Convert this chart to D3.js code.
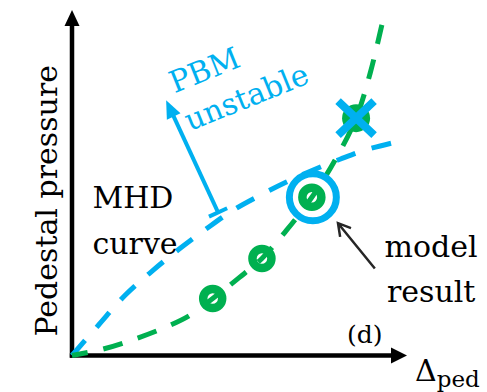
<!DOCTYPE html>
<html>
<head>
<meta charset="utf-8">
<script src="https://cdn.jsdelivr.net/npm/d3@7"></script>
<style>
  html, body { margin: 0; padding: 0; background: #fff; }
  svg { display: block; }
  text { font-family: "DejaVu Serif", serif; }
</style>
</head>
<body>
<script>
// MHD stability boundary (pedestal pressure vs pedestal width)
const mhdX = [0, 8, 16, 24, 32, 40, 48, 56, 64, 72, 80, 88, 99];
const mhdY = [0, 8.9, 17.6, 24.5, 30.8, 36.6, 42, 46.3, 50.2, 53.7, 56.8, 59.6, 62.3];

// Model trajectory of the pedestal as it builds up
const modelX = [0, 9, 18, 27, 35, 42, 50, 56.7, 64, 71.6, 78.5, 84.8, 89, 92.5];
const modelY = [0, 1.8, 4.5, 7.8, 11.5, 16.5, 22.6, 28.1, 36.2, 45.8, 56.5, 68.7, 81.7, 95.7];

// Points marked along the trajectory (the last one is the model result)
const ringX = [42, 56.7, 71.6];
const ringY = [16.5, 28.1, 45.8];
const resultIndex = 2;

// Point beyond the boundary (unstable)
const crossX = [84.8];
const crossY = [68.7];

// Annotation anchors, in data units
const pbmArrowFrom = [43.6, 41.4], pbmArrowTo = [28.1, 73.9];
const resultArrowFrom = [90.4, 25.2], resultArrowTo = [79.4, 38.3];

const labels = {
  yAxis: "Pedestal pressure",
  xAxis: "Δ", xSub: "ped",
  panel: "(d)",
  mhd: ["MHD", "curve"],
  pbm: ["PBM", "unstable"],
  result: ["model", "result"]
};

const W = 487, H = 392;
const BLUE = "#00B0F0", GREEN = "#00B050";

const x = d3.scaleLinear().domain([0, 100]).range([72, 407]);
const y = d3.scaleLinear().domain([0, 100]).range([355.5, 10]);

const svg = d3.select("body").append("svg")
  .attr("width", W).attr("height", H);

// ---- axes with arrowheads ----
const [x0, x1] = x.range();
const [y0, y1] = y.range();
const axes = svg.append("g");
axes.append("line")
  .attr("x1", x0 - 2.2).attr("y1", y0).attr("x2", x1 - 12).attr("y2", y0)
  .attr("stroke", "#000").attr("stroke-width", 4.5);
axes.append("line")
  .attr("x1", x0).attr("y1", y0 + 2.2).attr("x2", x0).attr("y2", y1 + 12)
  .attr("stroke", "#000").attr("stroke-width", 4.5);
axes.append("path")
  .attr("d", `M${x1},${y0} L${x1 - 16},${y0 - 8} L${x1 - 16},${y0 + 8} Z`)
  .attr("fill", "#000");
axes.append("path")
  .attr("d", `M${x0},${y1} L${x0 - 7.5},${y1 + 16} L${x0 + 7.5},${y1 + 16} Z`)
  .attr("fill", "#000");

// axis titles
svg.append("text")
  .attr("transform", `translate(${x0 - 15},${(y0 + y1) / 2 + 18}) rotate(-90)`)
  .attr("text-anchor", "middle")
  .attr("font-size", 30)
  .attr("fill", "#000")
  .text(labels.yAxis);

const xt = svg.append("text")
  .attr("x", x1 + 8).attr("y", y0 + 25)
  .attr("font-size", 30).attr("fill", "#000");
xt.append("tspan").text(labels.xAxis);
xt.append("tspan").attr("font-size", 23).attr("dy", 6).text(labels.xSub);

svg.append("text")
  .attr("x", x(82.1)).attr("y", y(3.5))
  .attr("font-size", 25).attr("fill", "#000")
  .text(labels.panel);

// ---- curves ----
const line = (xs, ys) => d3.line()
  .x(i => x(xs[i])).y(i => y(ys[i]))
  .curve(d3.curveCatmullRom.alpha(0.5))(d3.range(xs.length));

svg.append("path")
  .attr("d", line(mhdX, mhdY))
  .attr("fill", "none").attr("stroke", BLUE)
  .attr("stroke-width", 5).attr("stroke-dasharray", "20,17");

svg.append("path")
  .attr("d", line(modelX, modelY))
  .attr("fill", "none").attr("stroke", GREEN)
  .attr("stroke-width", 5).attr("stroke-dasharray", "20,16")
  .attr("stroke-dashoffset", 4);

// ---- markers ----
svg.selectAll("circle.ring")
  .data(d3.range(ringX.length))
  .join("circle")
  .attr("class", "ring")
  .attr("cx", i => x(ringX[i])).attr("cy", i => y(ringY[i]))
  .attr("r", 9.5).attr("fill", "none")
  .attr("stroke", GREEN).attr("stroke-width", 8.5);

svg.append("circle")
  .attr("cx", x(ringX[resultIndex]) + 1).attr("cy", y(ringY[resultIndex]))
  .attr("r", 23.5).attr("fill", "none")
  .attr("stroke", BLUE).attr("stroke-width", 7);

svg.selectAll("circle.unstable")
  .data(d3.range(crossX.length))
  .join("circle")
  .attr("class", "unstable")
  .attr("cx", i => x(crossX[i])).attr("cy", i => y(crossY[i]))
  .attr("r", 14).attr("fill", GREEN);

const cross = svg.selectAll("g.cross")
  .data(d3.range(crossX.length))
  .join("g")
  .attr("class", "cross")
  .attr("transform", i => `translate(${x(crossX[i])},${y(crossY[i])})`);
cross.append("path")
  .attr("d", "M-18,-17 L18,17 M18,-17 L-18,17")
  .attr("stroke", BLUE).attr("stroke-width", 8).attr("fill", "none");

// ---- PBM unstable arrow (T-based) ----
{
  const bx = x(pbmArrowFrom[0]), by = y(pbmArrowFrom[1]);
  const tx = x(pbmArrowTo[0]), ty = y(pbmArrowTo[1]);
  const L = Math.hypot(tx - bx, ty - by);
  const ux = (tx - bx) / L, uy = (ty - by) / L;
  const px = -uy, py = ux;
  const hl = 18, hw = 7.5;
  const g = svg.append("g");
  g.append("line")
    .attr("x1", bx).attr("y1", by)
    .attr("x2", tx - ux * (hl - 2)).attr("y2", ty - uy * (hl - 2))
    .attr("stroke", BLUE).attr("stroke-width", 4);
  g.append("line")
    .attr("x1", bx - px * 10).attr("y1", by - py * 10)
    .attr("x2", bx + px * 10).attr("y2", by + py * 10)
    .attr("stroke", BLUE).attr("stroke-width", 4);
  g.append("path")
    .attr("d", `M${tx},${ty} L${tx - ux * hl + px * hw},${ty - uy * hl + py * hw} L${tx - ux * hl - px * hw},${ty - uy * hl - py * hw} Z`)
    .attr("fill", BLUE);
}

// ---- model result arrow (open head) ----
{
  const bx = x(resultArrowFrom[0]), by = y(resultArrowFrom[1]);
  const tx = x(resultArrowTo[0]), ty = y(resultArrowTo[1]);
  const L = Math.hypot(tx - bx, ty - by);
  const ux = (tx - bx) / L, uy = (ty - by) / L;
  const px = -uy, py = ux;
  const hl = 12, hw = 7;
  svg.append("path")
    .attr("d", `M${bx},${by} L${tx},${ty} M${tx - ux * hl + px * hw},${ty - uy * hl + py * hw} L${tx},${ty} L${tx - ux * hl - px * hw},${ty - uy * hl - py * hw}`)
    .attr("fill", "none").attr("stroke", "#262626")
    .attr("stroke-width", 2.5).attr("stroke-linejoin", "miter");
}

// ---- text annotations ----
svg.append("g")
  .attr("transform", `translate(${x(6.1)},${y(42.6)})`)
  .selectAll("text").data(labels.mhd).join("text")
  .attr("y", (d, i) => i * 46)
  .attr("font-size", 30).attr("fill", "#000")
  .text(d => d);

svg.append("g")
  .attr("transform", `translate(${x(107.2)},${y(28.4)})`)
  .selectAll("text").data(labels.result).join("text")
  .attr("y", (d, i) => i * 45)
  .attr("text-anchor", "middle")
  .attr("font-size", 30).attr("fill", "#000")
  .text(d => d);

svg.append("g")
  .attr("transform", `translate(${x(30.6)},${y(75.9)}) rotate(-22)`)
  .selectAll("text").data(labels.pbm).join("text")
  .attr("y", (d, i) => i * 41)
  .attr("font-size", 30).attr("fill", BLUE)
  .text(d => d);
</script>
</body>
</html>
